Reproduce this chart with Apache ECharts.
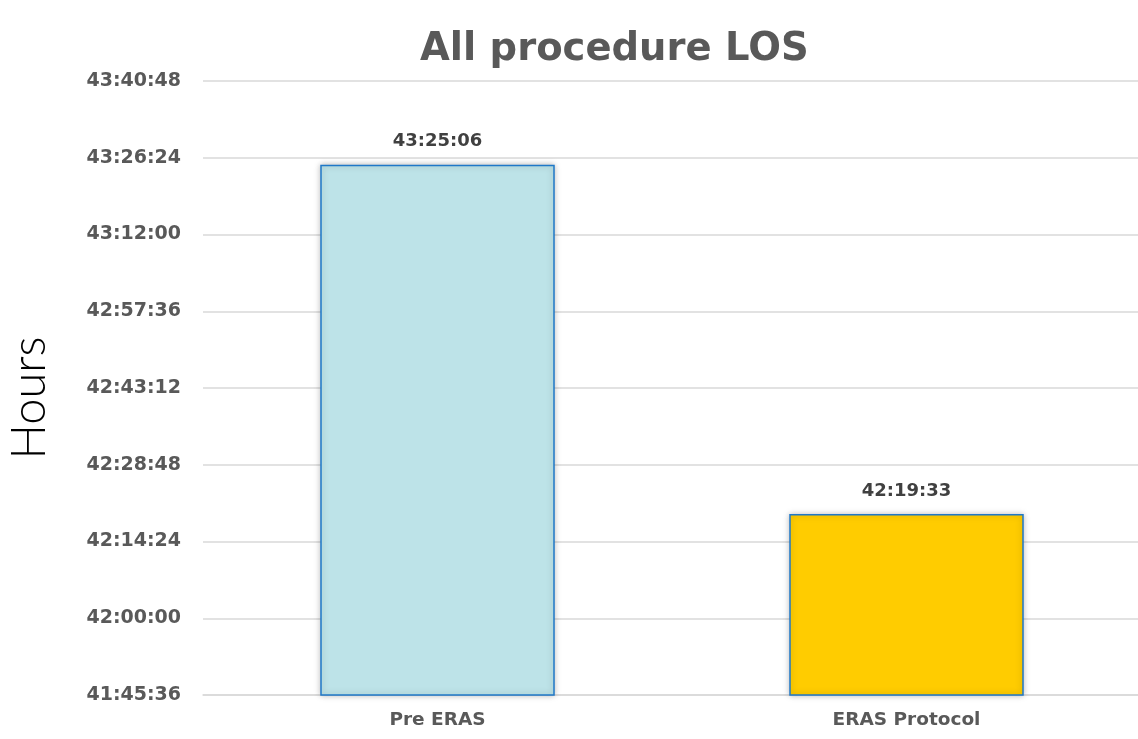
<!DOCTYPE html>
<html><head><meta charset="utf-8">
<script src="https://cdn.jsdelivr.net/npm/echarts@6/dist/echarts.min.js"></script>
<style>html,body{margin:0;padding:0;background:#fff}#c{width:1138px;height:739px}</style>
</head><body><div id="c"></div>
<script>
const categories = ["Pre ERAS", "ERAS Protocol"];
const valuesHMS = ["43:25:06", "42:19:33"];
const barColors = ["#BDE3E8", "#FFCC00"];
const axisMinHMS = "41:45:36";
const axisMaxHMS = "43:40:48";
const axisStepHMS = "0:14:24";

function toSec(s){const p=s.split(':').map(Number);return p[0]*3600+p[1]*60+p[2];}
function fmt(v){v=Math.round(v);const h=Math.floor(v/3600),m=Math.floor((v%3600)/60),s=v%60;return h+':'+String(m).padStart(2,'0')+':'+String(s).padStart(2,'0');}

const F = 'DejaVu Sans';
const chart = echarts.init(document.getElementById('c'));
chart.setOption({
  animation:false,
  title:{text:'All procedure LOS',left:415,top:25,textStyle:{fontFamily:F,fontWeight:'bold',fontSize:38.5,color:'#595959'}},
  grid:{left:203,right:-3,top:81,bottom:44,containLabel:false,outerBoundsMode:'none'},
  xAxis:{type:'category',data:categories,axisLine:{lineStyle:{color:'#D9D9D9',width:1.5}},axisTick:{show:false},
    axisLabel:{fontFamily:F,fontWeight:'bold',fontSize:18.5,color:'#595959',margin:16}},
  yAxis:{type:'value',min:toSec(axisMinHMS),max:toSec(axisMaxHMS),interval:toSec(axisStepHMS),
    name:'Hours',nameLocation:'middle',nameGap:150,nameRotate:90,
    nameTextStyle:{fontFamily:'Lato',fontWeight:300,fontSize:47,color:'#000',padding:[0,20,0,0]},
    axisLine:{show:false},axisTick:{show:false},
    splitLine:{lineStyle:{color:'#D9D9D9',width:1.5}},
    axisLabel:{formatter:fmt,fontFamily:F,fontWeight:'bold',fontSize:19,color:'#595959',margin:22}},
  series:[{type:'bar',barWidth:'50%',
    data:valuesHMS.map((v,i)=>({value:toSec(v),itemStyle:{color:barColors[i]}})),
    itemStyle:{borderColor:'#1F78C8',borderWidth:1.5,shadowColor:'rgba(0,0,0,0.25)',shadowBlur:6,shadowOffsetX:0,shadowOffsetY:0},
    label:{show:true,position:'top',distance:14,formatter:p=>fmt(p.value),fontFamily:F,fontWeight:'bold',fontSize:18,color:'#404040'}}]
});
</script></body></html>
